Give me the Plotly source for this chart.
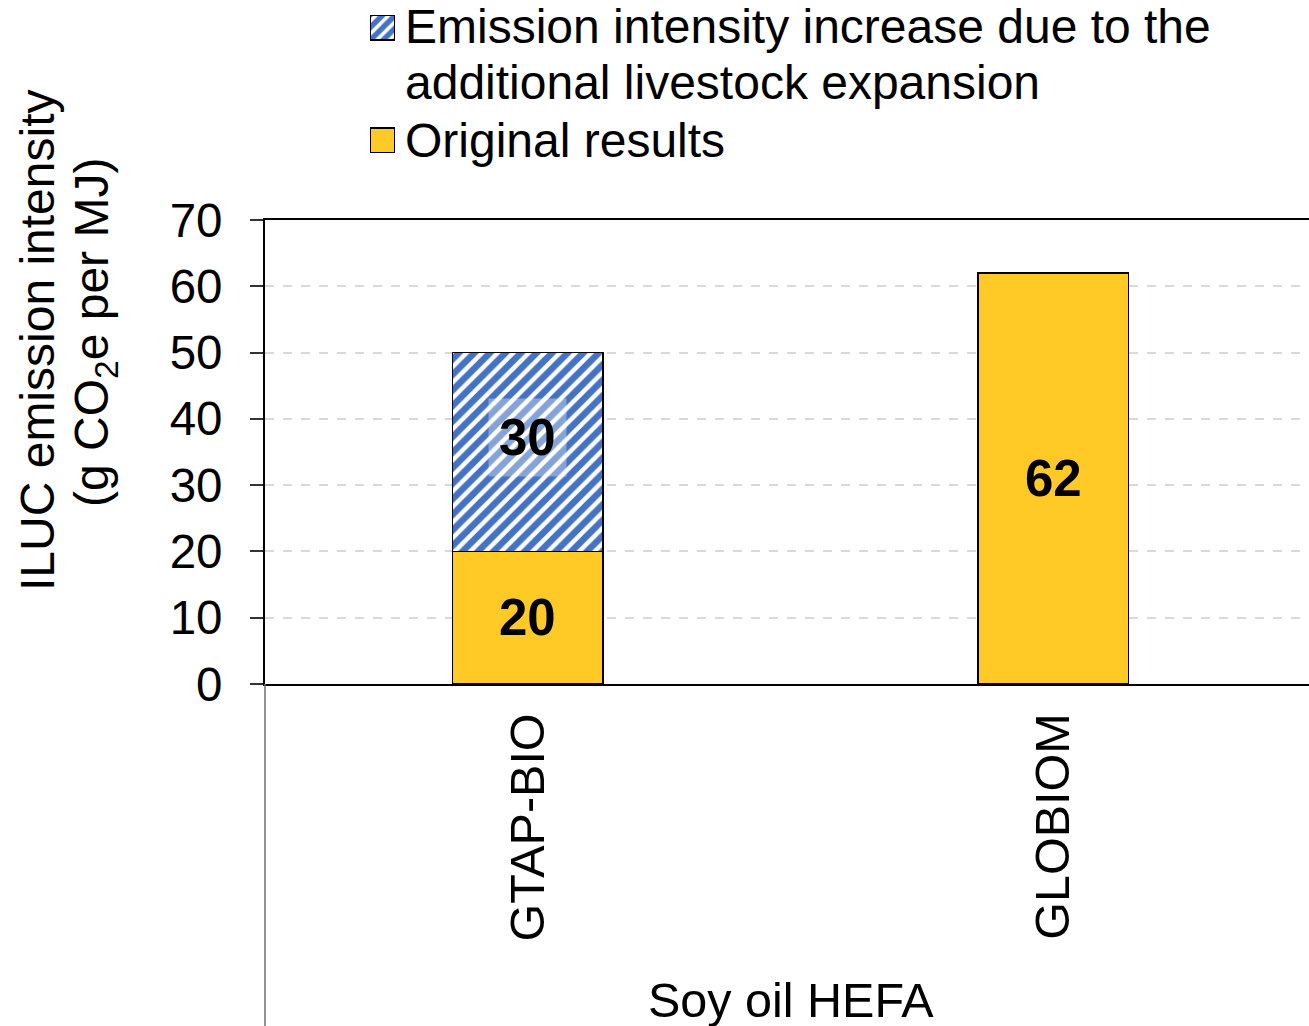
import plotly.graph_objects as go

# ---- data -------------------------------------------------------------
models = ["GTAP-BIO", "GLOBIOM"]
original_results = [20, 62]
livestock_increase = [30, None]
group_label = "Soy oil HEFA"
y_ticks = [0, 10, 20, 30, 40, 50, 60, 70]

# ---- style ------------------------------------------------------------
W, H = 1309, 1026
FONT = "Liberation Sans, Arial, sans-serif"
YELLOW = "#FFC926"
BLUE = "#4472C4"

# plot area in pixels (margins are zero, so paper == page)
px_left, px_right = 265, 1309
px_top, px_bottom = 220, 684


def px(x):
    return x / W


def py(y):
    return 1 - y / H


hatch = dict(shape="/", fgcolor=BLUE, bgcolor="white", size=11,
             solidity=0.6, fgopacity=1)

fig = go.Figure()

fig.add_trace(go.Bar(
    x=models, y=original_results, width=0.287,
    marker=dict(color=YELLOW, line=dict(color="black", width=1.5)),
    showlegend=False, hoverinfo="skip",
))
fig.add_trace(go.Bar(
    x=models, y=livestock_increase, width=0.287,
    marker=dict(color="white", pattern=hatch,
                line=dict(color="black", width=1.5)),
    showlegend=False, hoverinfo="skip",
))

# legend swatches drawn as tiny bars on their own axes
fig.add_trace(go.Bar(
    x=[1], y=[1], orientation="h", width=0.2212, xaxis="x2", yaxis="y2",
    marker=dict(color="white", pattern=dict(hatch, size=9),
                line=dict(color="black", width=1.5)),
    showlegend=False, hoverinfo="skip",
))
fig.add_trace(go.Bar(
    x=[1], y=[0], orientation="h", width=0.2212, xaxis="x2", yaxis="y2",
    marker=dict(color=YELLOW, line=dict(color="black", width=1.5)),
    showlegend=False, hoverinfo="skip",
))

annotations = []

# value labels centred in their segments
for i, m in enumerate(models):
    v = original_results[i]
    annotations.append(dict(
        x=m, y=v / 2, xref="x", yref="y", text=f"<b>{v}</b>",
        xanchor="center", yanchor="middle",
        showarrow=False, font=dict(family=FONT, size=51, color="black"),
    ))
    inc = livestock_increase[i]
    if inc is not None:
        annotations.append(dict(
            x=m, y=v + inc / 2, xref="x", yref="y", text=f"<b>{inc}</b>",
            xanchor="center", yanchor="middle",
            showarrow=False, yshift=15,
            font=dict(family=FONT, size=51, color="black"),
            bgcolor="rgba(255,255,255,0.35)", borderpad=10,
        ))

# y-axis title (two lines)
annotations.append(dict(
    x=px(37), y=py(340), xref="paper", yref="paper",
    xanchor="center", yanchor="middle",
    text="ILUC emission intensity", textangle=-90, showarrow=False,
    font=dict(family=FONT, size=48, color="black"),
))
annotations.append(dict(
    x=px(95), y=py(333), xref="paper", yref="paper",
    xanchor="center", yanchor="middle",
    text="(g CO<sub>2</sub>e per MJ)", textangle=-90, showarrow=False,
    font=dict(family=FONT, size=48, color="black"),
))

# group title under the categories
annotations.append(dict(
    x=px(791), y=py(1000), xref="paper", yref="paper",
    xanchor="center", yanchor="middle",
    text=group_label, showarrow=False,
    font=dict(family=FONT, size=48.5, color="black"),
))

# legend text
for txt, yc in [("Emission intensity increase due to the", 27),
                ("additional livestock expansion", 82),
                ("Original results", 140)]:
    annotations.append(dict(
        x=px(403), y=py(yc), xref="paper", yref="paper", text=txt,
        xanchor="left", yanchor="middle", showarrow=False,
        font=dict(family=FONT, size=48, color="black"),
    ))

shapes = [
    # y-axis line continuing down through the category area
    dict(type="line", xref="paper", yref="paper",
         x0=px(px_left), x1=px(px_left), y0=0, y1=py(px_bottom),
         line=dict(color="#6e6e6e", width=1.5)),
]

fig.update_layout(
    width=W, height=H, autosize=False,
    margin=dict(l=0, r=0, t=0, b=0, pad=0, autoexpand=False),
    paper_bgcolor="white", plot_bgcolor="white",
    barmode="stack",
    font=dict(family=FONT, color="black"),
    xaxis=dict(
        domain=[px(px_left), px(px_right)],
        range=[-0.5, 1.4867],
        showgrid=False, zeroline=False, automargin=False,
        showline=True, mirror=True, linecolor="black", linewidth=2,
        ticks="", tickangle=-90, ticklabelstandoff=8,
        tickfont=dict(family=FONT, size=48.5, color="black"),
    ),
    yaxis=dict(
        domain=[py(px_bottom), py(px_top)],
        range=[0, 70], tickvals=y_ticks, automargin=False,
        showgrid=True, gridcolor="#D9D9D9", griddash="dash", gridwidth=1.5,
        zeroline=False,
        showline=True, linecolor="black", linewidth=2,
        ticks="outside", ticklen=13, tickwidth=2, tickcolor="#333",
        ticklabelstandoff=18,
        tickfont=dict(family=FONT, size=47.5, color="black"),
    ),
    xaxis2=dict(domain=[px(370), px(395)], range=[0, 1], visible=False,
                anchor="y2", fixedrange=True),
    yaxis2=dict(domain=[py(153), py(15)], range=[-0.1106, 1.1106],
                visible=False, anchor="x2", fixedrange=True),
    annotations=annotations,
    shapes=shapes,
    showlegend=False,
)

fig.write_html("out.html")
